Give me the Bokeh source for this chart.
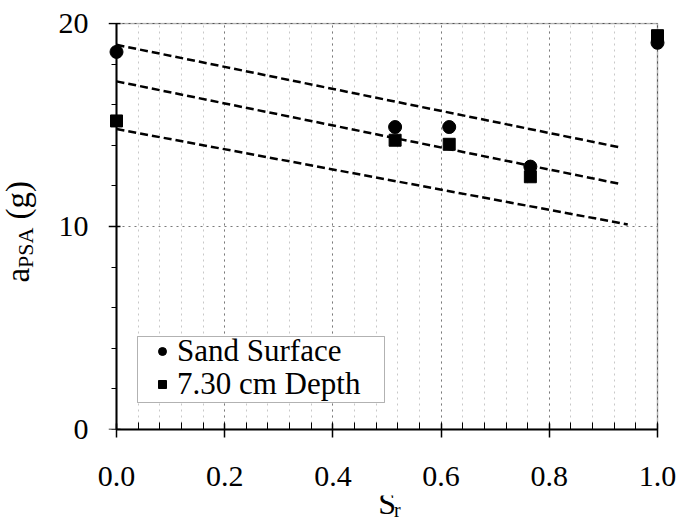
import math
from bokeh.plotting import figure
from bokeh.layouts import row, column
from bokeh.models import (Range1d, SingleIntervalTicker, Label, Legend, LegendItem,
                          CustomJSTickFormatter, BoxAnnotation, Grid, LinearAxis)
from bokeh.embed import file_html
from bokeh.resources import INLINE

# ---- data ----
sr = [0.0, 0.515, 0.615, 0.765, 1.0]
sand_surface = [18.6, 14.9, 14.9, 12.95, 19.05]
depth_730 = [15.2, 14.25, 14.05, 12.45, 19.4]

upper_x = [0.0, 0.93]
upper_y = [18.95, 13.9]
middle_x = [0.0, 0.93]
middle_y = [17.15, 12.1]
lower_x = [0.0, 0.945]
lower_y = [14.8, 10.1]

x_min, x_max = 0.0, 1.0
y_min, y_max = 0.0, 20.0
x_ticks_interval = 0.2
y_ticks_interval = 10

FONT = "Liberation Serif"

# ---- layout constants (pixels) ----
LEFT_W = 48          # strip holding the rotated y label
MAIN_W = 680 - LEFT_W
MAIN_H = 495
BOTTOM_H = 521 - MAIN_H
PX_X = 541.0         # pixels per x unit
PX_Y = 20.3          # pixels per y unit
PAD_X = 8            # keep edge markers unclipped
PAD_TOP = 1
MID = 0.3375         # distance (em) from baseline to middle of text box

main = figure(width=MAIN_W, height=MAIN_H, output_backend="svg", toolbar_location=None,
              title=None,
              x_range=Range1d(x_min - PAD_X / PX_X, x_max + PAD_X / PX_X),
              y_range=Range1d(y_min, y_max + PAD_TOP / PX_Y))
main.min_border_left = 60
main.min_border_right = 15
main.min_border_top = 22
main.min_border_bottom = 66
main.background_fill_color = "white"
main.border_fill_color = "white"
main.outline_line_color = None

# x axis
main.xaxis.ticker = SingleIntervalTicker(interval=x_ticks_interval, num_minor_ticks=5)
main.xaxis.formatter = CustomJSTickFormatter(code="return tick.toFixed(1);")
main.xaxis.bounds = (x_min, x_max)
main.xaxis.axis_line_width = 2
main.xaxis.axis_line_color = "black"
main.xaxis.major_tick_line_color = "black"
main.xaxis.minor_tick_line_color = "black"
main.xaxis.major_tick_line_width = 1.5
main.xaxis.minor_tick_line_width = 1
main.xaxis.major_tick_in = 6
main.xaxis.major_tick_out = 8
main.xaxis.minor_tick_in = 7
main.xaxis.minor_tick_out = 0
main.xaxis.major_label_standoff = 29
main.xaxis.major_label_text_font = FONT
main.xaxis.major_label_text_font_size = "30px"
main.xaxis.major_label_text_color = "black"

# y axis: labels from the standard left axis
main.yaxis.ticker = SingleIntervalTicker(interval=y_ticks_interval, num_minor_ticks=5)
main.yaxis.bounds = (y_min, y_max)
main.yaxis.axis_line_color = None
main.yaxis.major_tick_line_color = None
main.yaxis.minor_tick_line_color = None
main.yaxis.major_tick_in = 0
main.yaxis.major_tick_out = 0
main.yaxis.minor_tick_in = 0
main.yaxis.minor_tick_out = 0
main.yaxis.major_label_standoff = 20
main.yaxis.major_label_text_font = FONT
main.yaxis.major_label_text_font_size = "30px"
main.yaxis.major_label_text_color = "black"

# y axis line and ticks drawn exactly at x = 0
y_line_axis = LinearAxis(ticker=SingleIntervalTicker(interval=y_ticks_interval, num_minor_ticks=5),
                         formatter=CustomJSTickFormatter(code="return '';"),
                         fixed_location=x_min, bounds=(y_min, y_max),
                         axis_line_width=2, axis_line_color="black",
                         major_tick_line_color="black", major_tick_line_width=1.5,
                         minor_tick_line_color="black", minor_tick_line_width=1,
                         major_tick_in=8, major_tick_out=4,
                         minor_tick_in=5, minor_tick_out=0,
                         major_label_standoff=0)
main.add_layout(y_line_axis, "right")

# grids
main.xgrid.bounds = (x_min, x_max)
main.xgrid.grid_line_color = "#7a7a7a"
main.xgrid.grid_line_dash = "dotted"
main.xgrid.grid_line_width = 1
main.xgrid.minor_grid_line_color = "#c8c8c8"
main.xgrid.minor_grid_line_dash = "dotted"
main.xgrid.minor_grid_line_width = 1
main.ygrid.grid_line_color = "#7a7a7a"
main.ygrid.grid_line_dash = "dotted"
main.ygrid.grid_line_width = 1
if "cross_bounds" in Grid.properties():
    main.xgrid.cross_bounds = (y_min, y_max)
    main.ygrid.cross_bounds = (x_min, x_max)

# plot-area border (top and right)
main.add_layout(BoxAnnotation(left=x_min, right=x_max, bottom=y_min, top=y_max,
                              fill_color=None, line_color="black", line_width=1.5,
                              level="underlay"))

# dashed trend lines
for xs, ys in ((upper_x, upper_y), (middle_x, middle_y), (lower_x, lower_y)):
    main.line(xs, ys, line_color="black", line_width=2.5, line_dash="8 4")

r1 = main.scatter(sr, sand_surface, marker="circle", size=13, fill_color="black", line_color="black")
r2 = main.scatter(sr, depth_730, marker="square", size=12, fill_color="black", line_color="black")

# legend frame
main.add_layout(BoxAnnotation(left=(137 - 116) / PX_X, right=(384 - 116) / PX_X,
                              bottom=(429 - 402) / PX_Y, top=(429 - 336) / PX_Y,
                              fill_color="white", fill_alpha=1.0,
                              line_color="black", line_width=1))


def make_legend(label, renderer, y_off):
    lg = Legend(items=[LegendItem(label=label, renderers=[renderer])], location=(39, y_off))
    lg.label_text_font = FONT
    lg.label_text_font_size = "31px"
    lg.label_text_color = "black"
    lg.border_line_color = None
    lg.background_fill_alpha = 0
    lg.padding = 0
    lg.spacing = 0
    lg.margin = 0
    lg.glyph_width = 30
    lg.label_standoff = 0
    return lg


main.add_layout(make_legend("Sand Surface", r1, 60), "center")
main.add_layout(make_legend("7.30 cm Depth", r2, 27), "center")

# ---- y axis label strip: a_PSA (g) ----
left = figure(width=LEFT_W, height=521, output_backend="svg", toolbar_location=None,
              title=None, x_range=Range1d(0, LEFT_W), y_range=Range1d(0, 521),
              x_axis_type=None, y_axis_type=None)
left.min_border_left = 0
left.min_border_right = 0
left.min_border_top = 0
left.min_border_bottom = 0
left.outline_line_color = None
left.grid.visible = False
lab = dict(angle=math.pi / 2, text_font=FONT, text_color="black",
           text_align="left", text_baseline="middle")
left.add_layout(Label(x=29 - MID * 33, y=521 - 282, text="a", text_font_size="33px", **lab))
left.add_layout(Label(x=32 - MID * 22, y=521 - 267.5, text="PSA", text_font_size="22px", **lab))
left.add_layout(Label(x=29 - MID * 33, y=521 - 219, text="(g)", text_font_size="33px", **lab))

# ---- x axis label strip: S_r ----
bottom = figure(width=MAIN_W, height=BOTTOM_H, output_backend="svg", toolbar_location=None,
                title=None, x_range=Range1d(0, MAIN_W), y_range=Range1d(0, BOTTOM_H),
                x_axis_type=None, y_axis_type=None)
bottom.min_border_left = 0
bottom.min_border_right = 0
bottom.min_border_top = 0
bottom.min_border_bottom = 0
bottom.outline_line_color = None
bottom.grid.visible = False
blab = dict(text_font=FONT, text_color="black", text_align="left", text_baseline="middle")
bottom.add_layout(Label(x=354 - LEFT_W, y=521 - (513.5 - MID * 32), text="S",
                        text_font_size="32px", **blab))
bottom.add_layout(Label(x=372 - LEFT_W, y=521 - (516 - MID * 20), text="r",
                        text_font_size="20px", **blab))

layout = row(left, column(main, bottom, spacing=0), spacing=0)

open("out.html", "w").write(file_html(layout, INLINE))
